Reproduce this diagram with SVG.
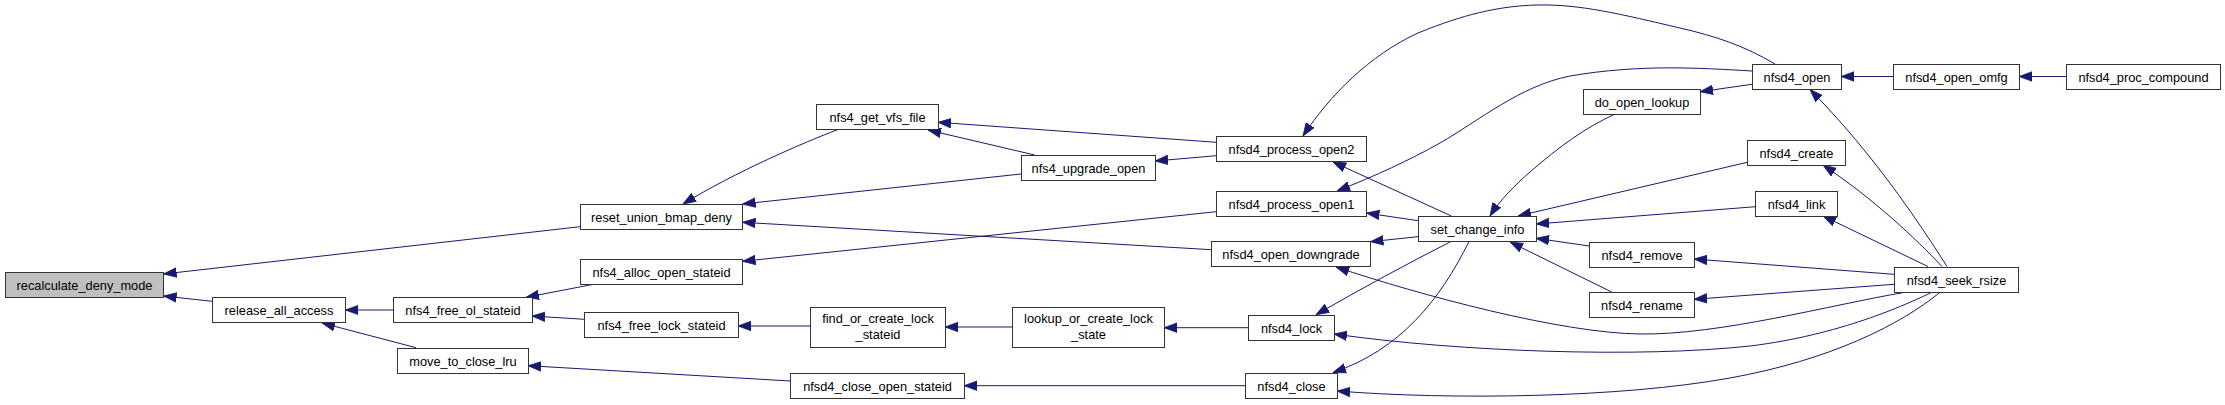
<svg xmlns="http://www.w3.org/2000/svg" width="2225" height="405" viewBox="0 0 2225 405">
<style>
.n rect{fill:#fff;stroke:#333;stroke-width:1}
.n text{font-family:"Liberation Sans",Arial,sans-serif;font-size:12.8px;fill:#000;text-anchor:middle}
#recalculate_deny_mode rect{fill:#bfbfbf}
#edges path{fill:none;stroke:#191970;stroke-width:1;marker-end:url(#ah)}
</style>
<defs>
<marker id="ah" markerUnits="userSpaceOnUse" markerWidth="14" markerHeight="11" refX="13" refY="4.75" orient="auto" viewBox="0 0 14 10">
<path d="M0,0 L13,4.75 L0,9.5 z" fill="#191970" stroke="#191970" stroke-width="0.8"/>
</marker>
</defs>
<rect width="2225" height="405" fill="#fff"/>
<g id="edges">
<path d="M580,226.7 L163.6,274"/>
<path d="M212,301.3 L163.6,296"/>
<path d="M393,310 L345.4,310"/>
<path d="M416,347.7 L322,323"/>
<path d="M595,284 L526,297.3"/>
<path d="M584.3,319.3 L532,316"/>
<path d="M790.4,381 L528,365.7"/>
<path d="M838,129.5 C805,142 735,172 683,204"/>
<path d="M1021,174 L742.5,204"/>
<path d="M1211.4,249.7 L742.5,222.3"/>
<path d="M1216.4,211.7 L742.5,261.3"/>
<path d="M810,326 L738,326"/>
<path d="M1012,327 L945,327"/>
<path d="M1248,327.7 L1164,327.7"/>
<path d="M1245,385.7 L964,385.7"/>
<path d="M1216.4,142.3 L938,122.3"/>
<path d="M1034.6,155 L928,130"/>
<path d="M1216.4,155.7 L1155,161"/>
<path d="M1775,64 C1745,46 1715,36 1680,28 C1620,14 1580,4 1537,5 C1490,6 1450,20 1418,33 C1370,55 1330,95 1303,136"/>
<path d="M1752,71 C1700,68 1640,64 1570,76 C1520,86 1480,120 1440,143 C1410,160 1375,176 1337,191"/>
<path d="M1752,84.3 L1700,91.7"/>
<path d="M1893,76.5 L1841,76.5"/>
<path d="M2066,76.5 L2019,76.5"/>
<path d="M1614,114.5 C1585,128 1560,146 1530,172 C1515,185 1500,200 1490,216"/>
<path d="M1451.4,216 L1333,162"/>
<path d="M1418,220.7 L1366.4,213"/>
<path d="M1418,236.7 L1370.4,241.7"/>
<path d="M1747.3,162.3 L1518,216"/>
<path d="M1755.5,206.7 L1536,224"/>
<path d="M1589.3,246 L1536,238.3"/>
<path d="M1611.7,292 L1510,242"/>
<path d="M1451.4,241.3 Q1385,275 1316,314.7"/>
<path d="M1469,241.5 C1440,300 1400,350 1333,372.5"/>
<path d="M1947,266.5 C1905,200 1860,140 1810,89.5"/>
<path d="M1942,266.5 C1915,238 1875,200 1823,165"/>
<path d="M1928,266.5 L1823,216"/>
<path d="M1894,274.3 L1694,259"/>
<path d="M1894,284.3 L1694,299.3"/>
<path d="M1905,292.3 C1830,305 1720,335 1640,334 C1560,333 1420,295 1336,267"/>
<path d="M1932,292.3 C1905,305 1840,335 1750,346 C1640,358 1460,352 1334,334"/>
<path d="M1940,292.3 C1900,325 1830,360 1730,378 C1620,398 1450,400 1337,391"/>
</g>
<g id="recalculate_deny_mode" class="n"><rect x="5.5" y="272.5" width="158" height="25"/><text x="84.5" y="289.5">recalculate_deny_mode</text></g>
<g id="release_all_access" class="n"><rect x="212.5" y="297.5" width="133" height="25"/><text x="279" y="314.5">release_all_access</text></g>
<g id="nfs4_free_ol_stateid" class="n"><rect x="393.5" y="297.5" width="139" height="25"/><text x="463" y="314.5">nfs4_free_ol_stateid</text></g>
<g id="move_to_close_lru" class="n"><rect x="397.5" y="348.5" width="131" height="25"/><text x="463" y="365.5">move_to_close_lru</text></g>
<g id="reset_union_bmap_deny" class="n"><rect x="580.5" y="204.5" width="162" height="25"/><text x="661.5" y="221.5">reset_union_bmap_deny</text></g>
<g id="nfs4_alloc_open_stateid" class="n"><rect x="580.5" y="259.5" width="162" height="25"/><text x="661.5" y="276.5">nfs4_alloc_open_stateid</text></g>
<g id="nfs4_free_lock_stateid" class="n"><rect x="584.5" y="312.5" width="154" height="25"/><text x="661.5" y="329.5">nfs4_free_lock_stateid</text></g>
<g id="nfs4_get_vfs_file" class="n"><rect x="816.5" y="104.5" width="122" height="25"/><text x="877.5" y="121.5">nfs4_get_vfs_file</text></g>
<g id="find_or_create_lock_stateid" class="n"><rect x="810.5" y="307.5" width="135" height="40"/><text x="878" y="323">find_or_create_lock</text><text x="878" y="339">_stateid</text></g>
<g id="nfsd4_close_open_stateid" class="n"><rect x="790.5" y="373.5" width="174" height="25"/><text x="877.5" y="390.5">nfsd4_close_open_stateid</text></g>
<g id="nfs4_upgrade_open" class="n"><rect x="1021.5" y="155.5" width="134" height="25"/><text x="1088.5" y="172.5">nfs4_upgrade_open</text></g>
<g id="lookup_or_create_lock_state" class="n"><rect x="1012.5" y="307.5" width="152" height="40"/><text x="1088.5" y="323">lookup_or_create_lock</text><text x="1088.5" y="339">_state</text></g>
<g id="nfsd4_process_open2" class="n"><rect x="1216.5" y="136.5" width="150" height="25"/><text x="1291.5" y="153.5">nfsd4_process_open2</text></g>
<g id="nfsd4_process_open1" class="n"><rect x="1216.5" y="191.5" width="150" height="25"/><text x="1291.5" y="208.5">nfsd4_process_open1</text></g>
<g id="nfsd4_open_downgrade" class="n"><rect x="1211.5" y="241.5" width="159" height="25"/><text x="1291" y="258.5">nfsd4_open_downgrade</text></g>
<g id="nfsd4_lock" class="n"><rect x="1248.5" y="315.5" width="86" height="25"/><text x="1291.5" y="332.5">nfsd4_lock</text></g>
<g id="nfsd4_close" class="n"><rect x="1245.5" y="373.5" width="92" height="25"/><text x="1291.5" y="390.5">nfsd4_close</text></g>
<g id="set_change_info" class="n"><rect x="1418.5" y="216.5" width="118" height="25"/><text x="1477.5" y="233.5">set_change_info</text></g>
<g id="do_open_lookup" class="n"><rect x="1583.5" y="89.5" width="117" height="25"/><text x="1642" y="106.5">do_open_lookup</text></g>
<g id="nfsd4_remove" class="n"><rect x="1589.5" y="242.5" width="105" height="25"/><text x="1642" y="259.5">nfsd4_remove</text></g>
<g id="nfsd4_rename" class="n"><rect x="1589.5" y="292.5" width="105" height="25"/><text x="1642" y="309.5">nfsd4_rename</text></g>
<g id="nfsd4_open" class="n"><rect x="1752.5" y="64.5" width="89" height="25"/><text x="1797" y="81.5">nfsd4_open</text></g>
<g id="nfsd4_create" class="n"><rect x="1747.5" y="140.5" width="98" height="25"/><text x="1796.5" y="157.5">nfsd4_create</text></g>
<g id="nfsd4_link" class="n"><rect x="1755.5" y="191.5" width="82" height="25"/><text x="1796.5" y="208.5">nfsd4_link</text></g>
<g id="nfsd4_open_omfg" class="n"><rect x="1893.5" y="64.5" width="126" height="25"/><text x="1956.5" y="81.5">nfsd4_open_omfg</text></g>
<g id="nfsd4_seek_rsize" class="n"><rect x="1894.5" y="267.5" width="124" height="25"/><text x="1956.5" y="284.5">nfsd4_seek_rsize</text></g>
<g id="nfsd4_proc_compound" class="n"><rect x="2066.5" y="64.5" width="154" height="25"/><text x="2143.5" y="81.5">nfsd4_proc_compound</text></g>
</svg>
